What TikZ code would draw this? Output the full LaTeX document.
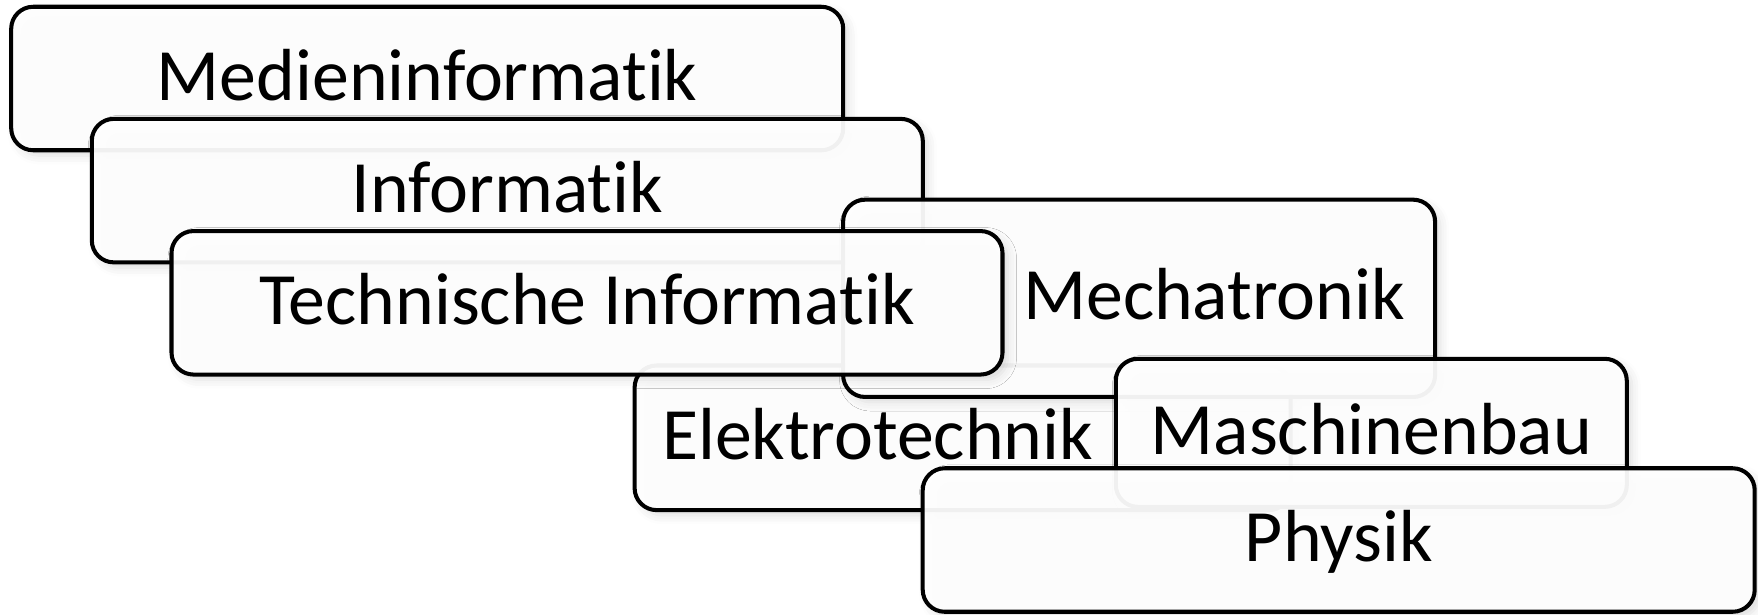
\documentclass[tikz,border=0pt]{standalone}
\usepackage{fontspec}
\setmainfont{Carlito}[Ligatures=NoCommon]
\usetikzlibrary{shadows.blur}

\tikzset{
    fachtext/.style={font=\fontsize{21}{25}\selectfont, text height=0.58cm, text depth=0.15cm, text opacity=1},
    fach/.style={draw=black, line width=1.15pt, rounded corners=2.2mm, fill=white, fill opacity=0.94,
        blur shadow={shadow xshift=1.5pt, shadow yshift=-1.5pt, shadow blur radius=2.5pt, shadow opacity=14},
        minimum height=1.435cm, inner sep=0pt, fachtext},
}

\begin{document}
\begin{tikzpicture}
    \useasboundingbox (0,0) rectangle (17.58,-6.14);
    % obere Stufe
    \node[fach, minimum width=8.32cm] (medien) at (4.272,-0.785) {Medieninformatik};
    \node[fach, minimum width=8.31cm] (info) at (5.073,-1.906) {Informatik};
    % Elektro und Mechatronik liegen unter der Technischen Informatik
    \node[fach, minimum width=6.56cm, minimum height=1.446cm,
        label={[fachtext, xshift=-0.85cm]center:Elektrotechnik}] (etech) at (9.626,-4.378) {};
    \node[fach, minimum width=5.92cm, minimum height=1.973cm,
        label={[fachtext, xshift=0.75cm]center:Mechatronik}] (mecha) at (11.391,-2.983) {};
    \node[fach, minimum width=8.31cm] (techinf) at (5.870,-3.028) {Technische Informatik};
    % untere Stufe
    \node[fach, minimum width=5.11cm, minimum height=1.48cm] (mabau) at (13.713,-4.328) {Maschinenbau};
    \node[fach, minimum width=8.32cm] (physik) at (13.387,-5.40) {Physik};
\end{tikzpicture}
\end{document}
